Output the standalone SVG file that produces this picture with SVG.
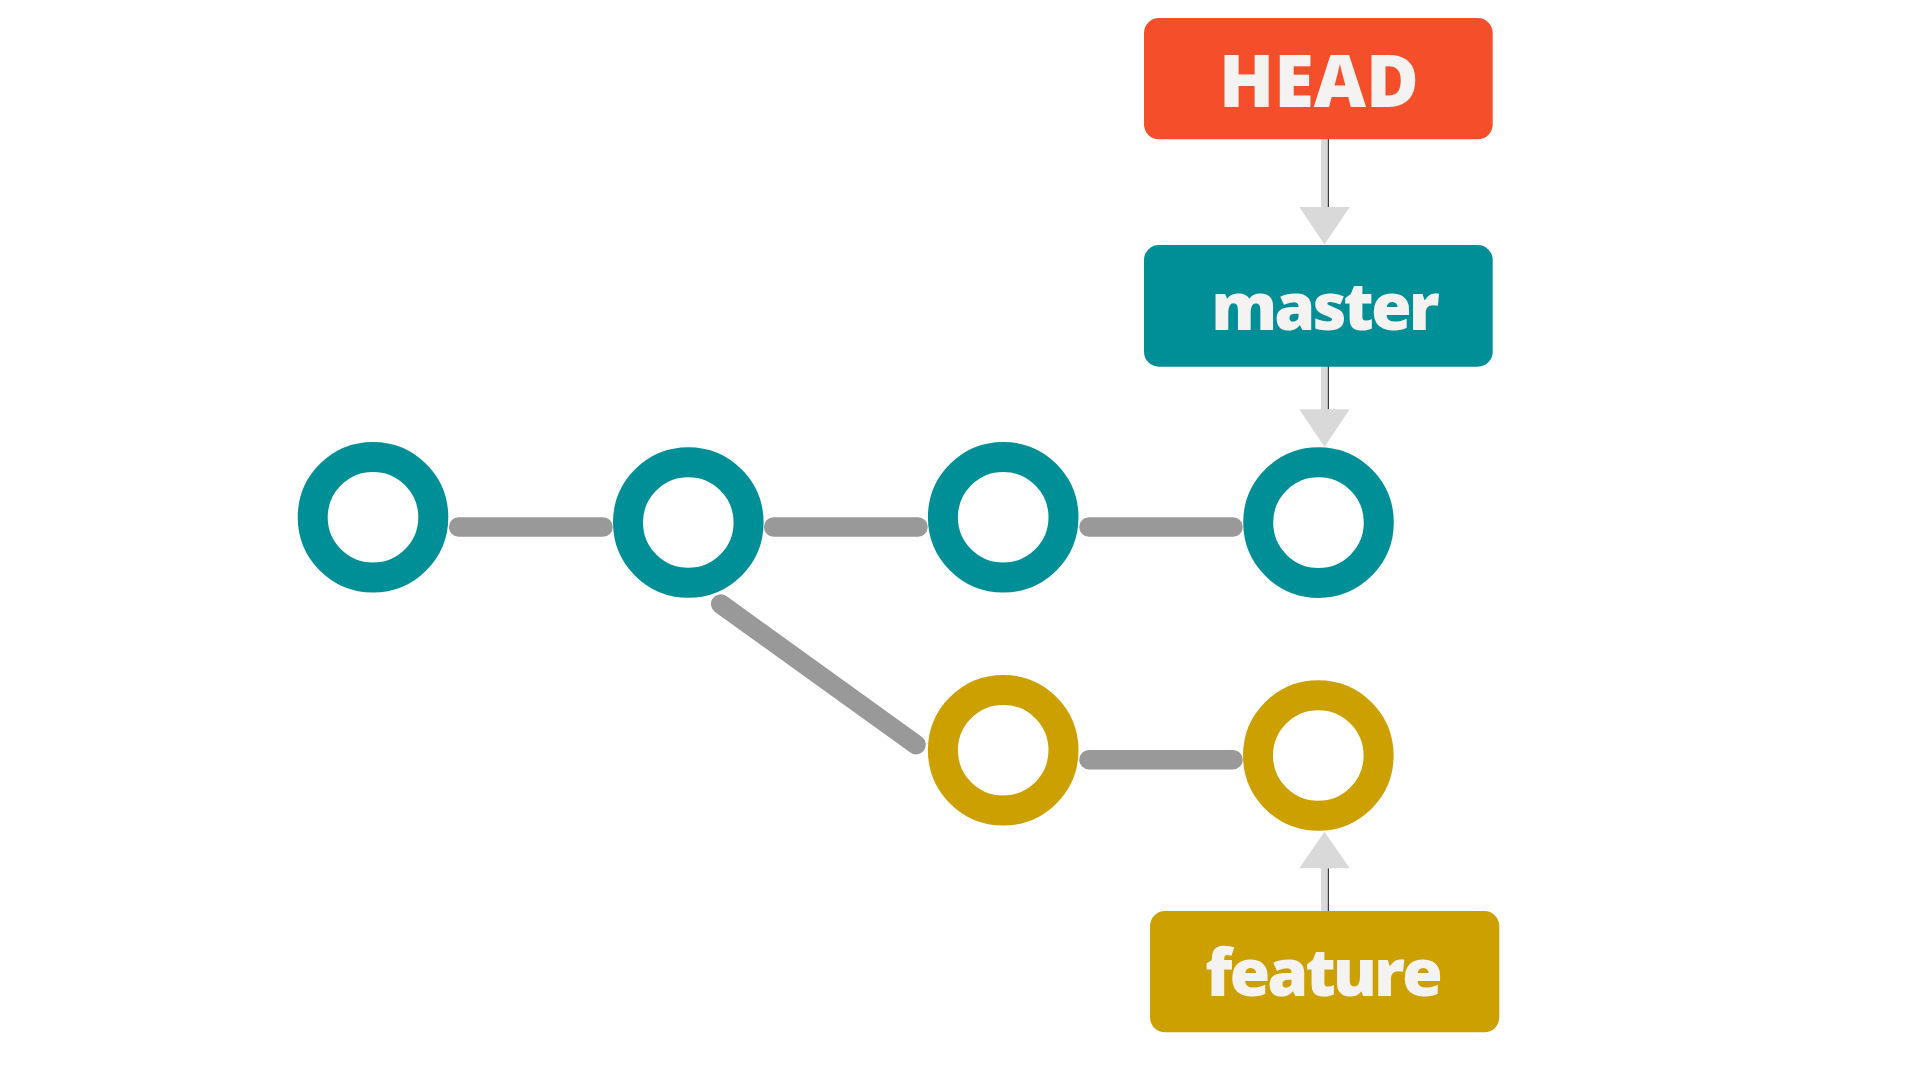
<svg xmlns="http://www.w3.org/2000/svg" width="1920" height="1080" viewBox="0 0 1920 1080">
<style>
.ring{fill:none;stroke-width:30}
.teal{stroke:#008F96}
.gold{stroke:#CCA000}
.edge{stroke:#999999;stroke-width:19.5;stroke-linecap:round;fill:none}
.arrow{fill:#D9D9D9}
.shade{stroke:#3a3a3a;stroke-width:1.2}
.lbl{font-family:"Open Sans","Noto Sans","Liberation Sans",sans-serif;font-weight:800;fill:#F4F3F1;text-anchor:middle}
.tight{letter-spacing:-3px}
</style>
<rect width="1920" height="1080" fill="#FFFFFF"/>
<g id="connectors">
<line class="edge" x1="458.7" y1="527" x2="603" y2="527"/>
<line class="edge" x1="773.7" y1="527" x2="918" y2="527"/>
<line class="edge" x1="1089" y1="527" x2="1233" y2="527"/>
<line class="edge" x1="720.7" y1="604" x2="916" y2="744.7"/>
<line class="edge" x1="1089" y1="759.7" x2="1233" y2="759.7"/>
<g id="arrow-head-master">
<rect class="arrow" x="1321" y="139" width="7.7" height="71"/>
<line class="shade" x1="1328.4" y1="139" x2="1328.4" y2="207"/>
<polygon class="arrow" points="1299.3,207 1349.7,207 1324.5,244.5"/>
</g>
<g id="arrow-master-c4">
<rect class="arrow" x="1321" y="366" width="7.7" height="46"/>
<line class="shade" x1="1328.4" y1="366" x2="1328.4" y2="409.3"/>
<polygon class="arrow" points="1299.3,409.3 1349.7,409.3 1324.5,447"/>
</g>
<g id="arrow-feature-c6">
<rect class="arrow" x="1321" y="865" width="7.7" height="47"/>
<line class="shade" x1="1328.4" y1="868.3" x2="1328.4" y2="911"/>
<polygon class="arrow" points="1299.3,868.3 1349.7,868.3 1324.5,831.7"/>
</g>
</g>
<g id="c1"><circle class="ring teal" cx="373" cy="517.3" r="60.3"/></g>
<g id="c2"><circle class="ring teal" cx="688.3" cy="522.5" r="60.3"/></g>
<g id="c3"><circle class="ring teal" cx="1003.2" cy="517.3" r="60.3"/></g>
<g id="c4"><circle class="ring teal" cx="1318.5" cy="522.6" r="60.3"/></g>
<g id="c5"><circle class="ring gold" cx="1003.2" cy="750.2" r="60.3"/></g>
<g id="c6"><circle class="ring gold" cx="1318.3" cy="755.5" r="60.3"/></g>
<g id="head">
<rect x="1144" y="18" width="348.7" height="121.3" rx="15" fill="#F44F2A"/>
<text class="lbl" x="1319" y="107.3" font-size="72">HEAD</text>
</g>
<g id="master">
<rect x="1144" y="245" width="348.7" height="121.7" rx="15" fill="#008F96"/>
<text class="lbl tight" x="1324" y="330" font-size="66">master</text>
</g>
<g id="feature">
<rect x="1150" y="911" width="349.3" height="121.3" rx="15" fill="#CCA000"/>
<text class="lbl tight" x="1322.5" y="995.7" font-size="66">feature</text>
</g>
</svg>
